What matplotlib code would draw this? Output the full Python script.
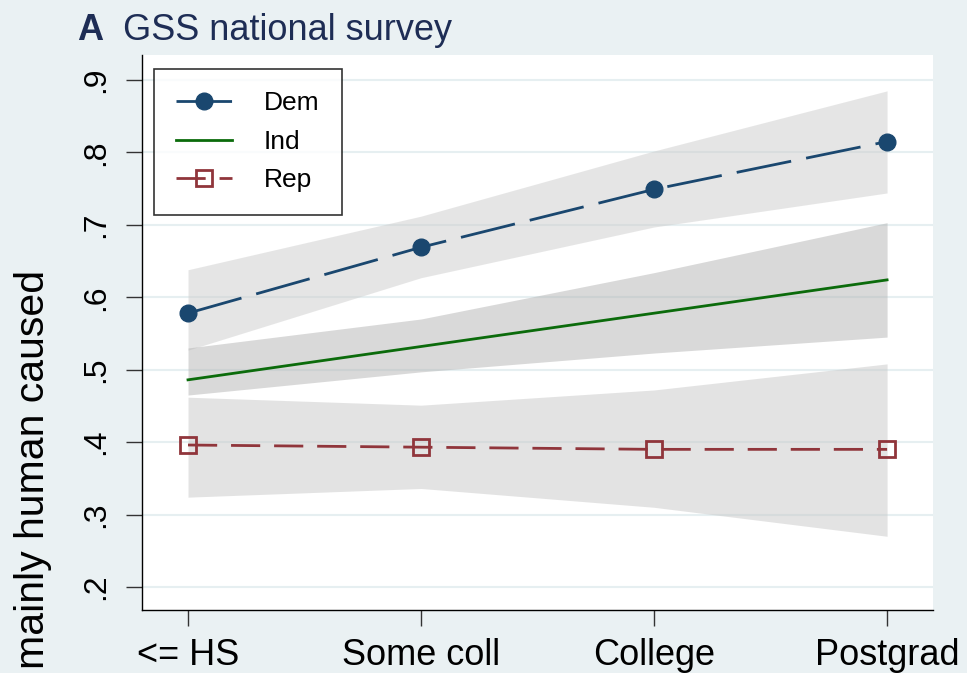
import matplotlib
matplotlib.use("Agg")
from matplotlib import pyplot as plt

# education levels on the x axis
education = ["<= HS", "Some coll", "College", "Postgrad"]
positions = [1, 2, 3, 4]

# predicted share saying "mainly human caused", with 95% bands
dem = [0.578, 0.669, 0.749, 0.815]
dem_lo = [0.527, 0.627, 0.697, 0.744]
dem_hi = [0.638, 0.712, 0.802, 0.885]

ind = [0.486, 0.532, 0.578, 0.624]
ind_lo = [0.465, 0.497, 0.523, 0.545]
ind_hi = [0.530, 0.570, 0.634, 0.703]

rep = [0.396, 0.393, 0.390, 0.390]
rep_lo = [0.324, 0.336, 0.310, 0.270]
rep_hi = [0.462, 0.451, 0.472, 0.508]

y_ticks = [0.2, 0.3, 0.4, 0.5, 0.6, 0.7, 0.8, 0.9]
y_tick_labels = [".2", ".3", ".4", ".5", ".6", ".7", ".8", ".9"]

plt.rcParams["font.family"] = ["Liberation Sans", "DejaVu Sans"]

bg = "#eaf1f3"
fig = plt.figure(figsize=(9.67, 6.73), dpi=100, facecolor=bg)
ax = fig.add_axes([142 / 967, 63 / 673, 791 / 967, 555 / 673])
ax.set_facecolor("white")

# confidence bands (semi-transparent, darker where they overlap)
ax.fill_between(positions, dem_lo, dem_hi, color=(205 / 255,) * 3, alpha=0.5, lw=0, zorder=1)
ax.fill_between(positions, ind_lo, ind_hi, color=(180 / 255,) * 3, alpha=0.5, lw=0, zorder=1)
ax.fill_between(positions, rep_lo, rep_hi, color=(200 / 255,) * 3, alpha=0.5, lw=0, zorder=1)

ax.plot(positions, dem, color="#1a476f", lw=2, linestyle=(0, (20, 5.5)),
        marker="o", markersize=12, label="Dem", zorder=3)
ax.plot(positions, ind, color="#0b6b0b", lw=2, label="Ind", zorder=3)
ax.plot(positions, rep, color="#90353b", lw=2, linestyle=(0, (10.5, 5)),
        marker="s", markersize=12, markerfacecolor="none", markeredgewidth=2,
        label="Rep", zorder=3)

ax.set_xlim(0.8026, 4.197)
ax.set_ylim(0.1682, 0.9345)

ax.set_xticks(positions)
ax.set_xticklabels(education, fontsize=26)
ax.set_yticks(y_ticks)
ax.set_yticklabels(y_tick_labels, fontsize=23, rotation=90, va="center")
ax.tick_params(axis="both", length=11.5, width=1, color="#333333", direction="out")
ax.tick_params(axis="x", pad=9)
ax.tick_params(axis="y", pad=11)

ax.grid(axis="y", color="#e6eff1", lw=1.5, zorder=0)
ax.set_axisbelow(True)
for side in ["top", "right"]:
    ax.spines[side].set_visible(False)
for side in ["left", "bottom"]:
    ax.spines[side].set_color("black")
    ax.spines[side].set_linewidth(1)

leg = ax.legend(loc="upper left", bbox_to_anchor=(154 / 967, 1 - 69 / 673),
                bbox_transform=fig.transFigure, fontsize=19, frameon=True,
                fancybox=False, edgecolor="black", handlelength=2.1,
                handletextpad=1.2, labelspacing=0.55, borderpad=0.85,
                borderaxespad=0, numpoints=1)
leg.get_frame().set_linewidth(1.2)

fig.text(33 / 967, 1 - 270 / 673, "mainly human caused", rotation=90,
         ha="center", va="top", fontsize=29.5)

title_color = "#1e2d55"
fig.text(77 / 967, 1 - 40 / 673, "A", fontsize=26, fontweight="bold",
         color=title_color, ha="left", va="baseline")
fig.text(123 / 967, 1 - 40 / 673, "GSS national survey", fontsize=26,
         color=title_color, ha="left", va="baseline")

fig.savefig("out.png", dpi=100, facecolor=bg)
